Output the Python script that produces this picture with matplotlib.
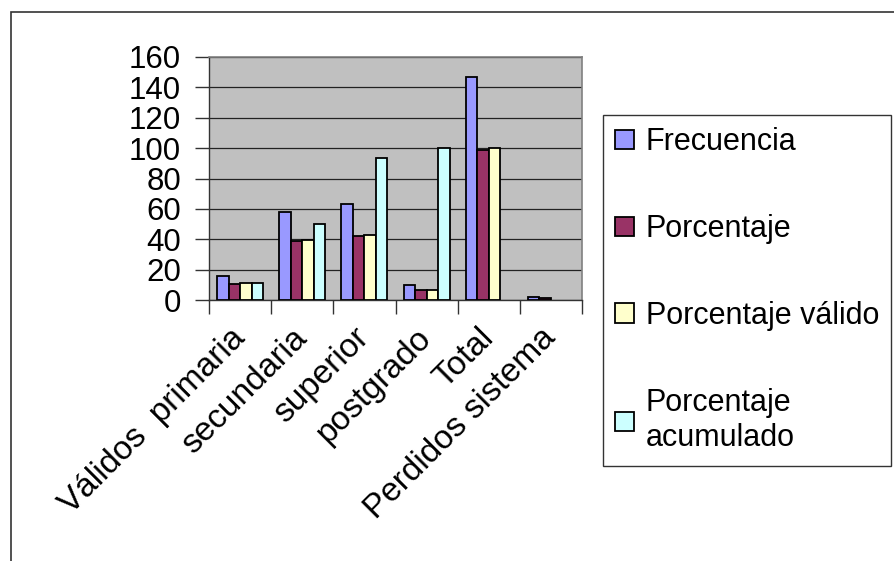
import matplotlib.pyplot as plt
import matplotlib.patches as mpatches
from matplotlib.ticker import FixedLocator
import numpy as np

plt.rcParams['font.family'] = ['Liberation Sans', 'DejaVu Sans']

categories = ['Válidos  primaria', 'secundaria', 'superior', 'postgrado', 'Total', 'Perdidos sistema']
series_names = ['Frecuencia', 'Porcentaje', 'Porcentaje válido', 'Porcentaje\nacumulado']
frecuencia = [16, 58, 63, 10, 147, 2]
porcentaje = [10.7, 38.9, 42.3, 6.7, 98.7, 1.5]
porcentaje_valido = [10.9, 39.5, 42.9, 6.8, 100.0, np.nan]
porcentaje_acumulado = [10.9, 50.3, 93.2, 100.0, np.nan, np.nan]
y_ticks = [0, 20, 40, 60, 80, 100, 120, 140, 160]

COLORS = ['#9999FF', '#993366', '#FFFFCC', '#CCFFFF']

W, H = 894, 561
fig = plt.figure(figsize=(W / 100, H / 100), dpi=100)

# outer chart border (only left and top visible)
fig.patches.append(mpatches.Rectangle((11 / W, -0.1), 1.2, 1 - 12 / H + 0.1,
                                      transform=fig.transFigure, fill=False,
                                      edgecolor='#333333', linewidth=1.2))

ax = fig.add_axes([209 / W, 1 - 300 / H, 373 / W, 243 / H])
ax.set_facecolor('#C0C0C0')

series = [frecuencia, porcentaje, porcentaje_valido, porcentaje_acumulado]
x = np.arange(len(categories))
bw = 0.185
for i, (vals, col, name) in enumerate(zip(series, COLORS, series_names)):
    ax.bar(x + 0.5 + (i - 1.5) * bw, vals, bw, color=col, edgecolor='black',
           linewidth=1.3, label=name, zorder=3)

ax.set_xlim(0, len(categories))
ax.set_ylim(0, 160)
ax.set_yticks(y_ticks)
ax.yaxis.grid(True, color='#222222', linewidth=0.9, zorder=1)
ax.tick_params(axis='y', labelsize=22.5, length=10, width=1, pad=10, color='#333333')

ax.xaxis.set_major_locator(FixedLocator(np.arange(len(categories) + 1)))
ax.xaxis.set_major_formatter(plt.NullFormatter())
ax.set_xticks(x + 0.5, minor=True)
ax.set_xticklabels(categories, minor=True, rotation=45, ha='right', va='center',
                   rotation_mode='anchor', fontsize=24)
ax.tick_params(axis='x', which='major', length=10, width=1, color='#333333')
ax.tick_params(axis='x', which='minor', length=0, pad=24)

for s in ['top', 'right']:
    ax.spines[s].set_color('#808080')
    ax.spines[s].set_linewidth(1.2)
for s in ['left', 'bottom']:
    ax.spines[s].set_color('#333333')
    ax.spines[s].set_linewidth(1.0)

leg = fig.legend(loc='upper left', bbox_to_anchor=(603 / W, 1 - 115 / H),
                 fontsize=22, frameon=True, fancybox=False, edgecolor='black',
                 handlelength=0.6, handleheight=0.6, handletextpad=0.4,
                 labelspacing=1.86, borderpad=0.4, borderaxespad=0)
leg.get_frame().set_linewidth(1.0)
for t in leg.get_texts():
    t.set_linespacing(1.25)

plt.savefig('out.png', dpi=100)
plt.close()
